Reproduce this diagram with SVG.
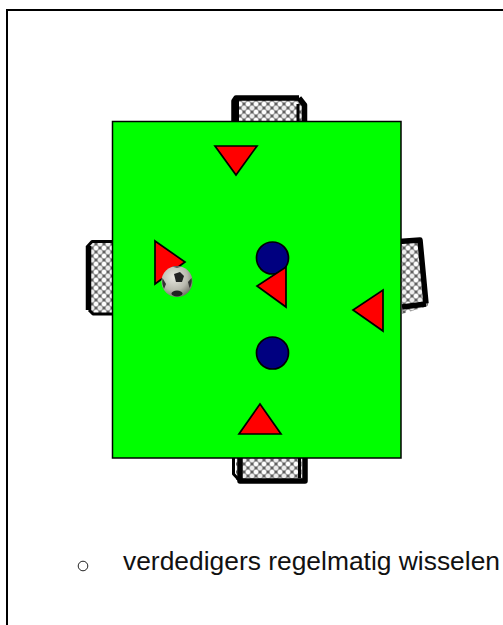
<svg xmlns="http://www.w3.org/2000/svg" width="503" height="625" viewBox="0 0 503 625">
<style>
.post{fill:none;stroke:#000;stroke-width:5.500;stroke-linejoin:round}
.thin{fill:none;stroke:#000;stroke-width:3;stroke-linejoin:round}
.field{fill:#00ff00;stroke:#000;stroke-width:1.500}
.tri{fill:#ff0000;stroke:#000;stroke-width:1.700;stroke-linejoin:miter}
.dot{fill:#000080;stroke:#000;stroke-width:1.700}
.txt{font-family:"Liberation Sans",Arial,sans-serif;font-size:26.400px;fill:#111}
</style>
<defs>
<pattern id="net" width="8" height="8" patternUnits="userSpaceOnUse">
<rect width="8" height="8" fill="#9c9c9c"/>
<circle cx="0" cy="0" r="2.200" fill="#fff"/><circle cx="8" cy="0" r="2.200" fill="#fff"/><circle cx="0" cy="8" r="2.200" fill="#fff"/><circle cx="8" cy="8" r="2.200" fill="#fff"/>
<circle cx="4" cy="4" r="2.200" fill="#eee"/>
<circle cx="4" cy="0" r="0.900" fill="#444"/><circle cx="0" cy="4" r="0.900" fill="#444"/><circle cx="8" cy="4" r="0.900" fill="#444"/><circle cx="4" cy="8" r="0.900" fill="#444"/>
</pattern>
<radialGradient id="ballg" cx="40%" cy="35%" r="72%">
<stop offset="0" stop-color="#e8e8e0"/><stop offset="0.6" stop-color="#b9b9ae"/><stop offset="1" stop-color="#66665e"/>
</radialGradient>
</defs>
<path id="frame" d="M7 625V10H503" fill="none" stroke="#000" stroke-width="2"/>
<g id="goal-top">
<rect x="236" y="99" width="66" height="24" fill="url(#net)"/>
<path class="post" d="M234 123V101L236 98H299"/>
<path class="thin" d="M237.500 122V100"/>
<path class="post" d="M299 98L304.500 105V123"/>
<path class="thin" d="M298 122V104"/>
</g>
<g id="goal-left">
<rect x="90" y="243" width="24" height="70" fill="url(#net)"/>
<path class="thin" d="M113 241.500H92L87 247"/>
<path class="post" d="M88.500 246V310"/>
<path class="thin" d="M89 310L93 314H113"/>
</g>
<g id="goal-right">
<polygon points="400,242 422,240 428,306 402,314" fill="url(#net)"/>
<path class="post" d="M399 241.500L420 240L426 303.500"/>
<path class="post" d="M402 307L426 304"/>
</g>
<g id="goal-bottom">
<rect x="236" y="458" width="66" height="22" fill="url(#net)"/>
<path class="thin" d="M233.500 458V474L240 481"/>
<path class="post" d="M240 458V481H305V458"/>
<path class="thin" d="M299.500 458V478"/>
</g>
<g id="field"><rect class="field" x="112.500" y="121.500" width="288.500" height="336.500"/></g>
<g id="player-1"><polygon class="tri" points="215,146 257,146 236,175"/></g>
<g id="player-2"><polygon class="tri" points="155,241 185,262 155,284"/></g>
<g id="defender-1"><circle class="dot" cx="272.500" cy="258" r="16"/></g>
<g id="player-3"><polygon class="tri" points="286,267 286,307 257,286"/></g>
<g id="player-4"><polygon class="tri" points="383,290 383,331 353,310"/></g>
<g id="defender-2"><circle class="dot" cx="272.500" cy="353" r="16"/></g>
<g id="player-5"><polygon class="tri" points="260,404 281,434 239,434"/></g>
<g id="ball">
<circle cx="177" cy="281.500" r="15.500" fill="url(#ballg)"/>
<polygon points="174,274 180,272 184,276 182,282 176,282" fill="#222"/>
<ellipse cx="177" cy="293.500" rx="5.500" ry="3" fill="#222"/>
<path d="M162.500 278Q161.500 284 164 289L166 284Z" fill="#333"/>
<path d="M191.500 278L188 282L189.500 288Q192.500 283 191.500 278Z" fill="#333"/>
<path d="M172 266.500Q177 265.500 182 266.500L177 268Z" fill="#555"/>
</g>
<g id="note">
<circle cx="83" cy="566" r="4.800" fill="none" stroke="#222" stroke-width="1"/>
<text class="txt" x="123" y="570">verdedigers regelmatig wisselen</text>
</g>
</svg>
